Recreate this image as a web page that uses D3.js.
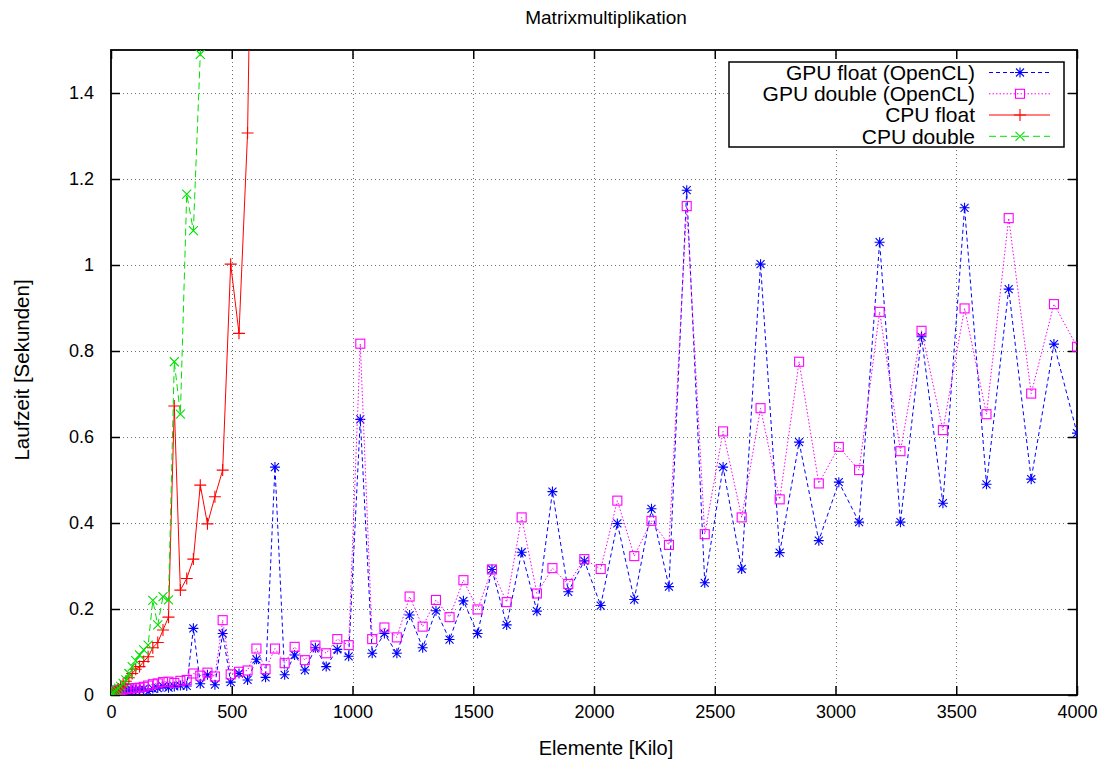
<!DOCTYPE html>
<html>
<head>
<meta charset="utf-8">
<script src="https://cdn.jsdelivr.net/npm/d3@7"></script>
<style>
  html, body { margin: 0; padding: 0; background: #fff; }
  svg text { font-family: "Liberation Sans", Arial, Helvetica, sans-serif; fill: #000; }
</style>
</head>
<body>
<svg id="chart" width="1110" height="762"></svg>
<script>
// ---------------- data ----------------
const titleText = "Matrixmultiplikation";
const xLabelText = "Elemente [Kilo]";
const yLabelText = "Laufzeit [Sekunden]";

const xTicks = [0, 500, 1000, 1500, 2000, 2500, 3000, 3500, 4000];
const yTicks = [0, 0.2, 0.4, 0.6, 0.8, 1, 1.2, 1.4];

const seriesNames = ["GPU float (OpenCL)", "GPU double (OpenCL)", "CPU float", "CPU double"];

// Elemente [Kilo]
const xKilo = [0.1, 1.0, 3.1, 6.4, 10.8, 16.4, 23.1, 31.0, 40.0, 50.2,
  61.5, 74.0, 87.6, 102.4, 118.3, 135.4, 153.7, 173.1, 193.6, 215.3,
  238.1, 262.1, 287.3, 313.6, 341.1, 369.7, 399.4, 430.3, 462.4, 495.6,
  530.0, 565.5, 602.2, 640.0, 679.0, 719.1, 760.4, 802.8, 846.4, 891.1,
  937.0, 984.1, 1032.3, 1081.6, 1132.1, 1183.7, 1236.5, 1290.5, 1345.6, 1401.9,
  1459.3, 1517.8, 1577.5, 1638.4, 1700.4, 1763.6, 1827.9, 1893.4, 1960.0, 2027.8,
  2096.7, 2166.8, 2238.0, 2310.4, 2383.9, 2458.6, 2534.5, 2611.5, 2689.6, 2768.9,
  2849.3, 2930.9, 3013.7, 3097.6, 3182.7, 3268.9, 3356.2, 3444.7, 3534.4, 3625.2,
  3717.2, 3810.3, 3904.6, 4000.0];

const gpuFloat = [0.001, 0.001, 0.002, 0.002, 0.003, 0.004, 0.005, 0.006, 0.007, 0.008,
  0.009, 0.010, 0.011, 0.012, 0.013, 0.014, 0.008, 0.015, 0.016, 0.020,
  0.017, 0.020, 0.022, 0.021, 0.155, 0.026, 0.047, 0.024, 0.143, 0.030,
  0.050, 0.035, 0.083, 0.041, 0.530, 0.047, 0.093, 0.058, 0.110, 0.066,
  0.106, 0.090, 0.641, 0.097, 0.143, 0.097, 0.186, 0.110, 0.196, 0.129,
  0.219, 0.143, 0.292, 0.163, 0.332, 0.195, 0.473, 0.240, 0.312, 0.208,
  0.399, 0.222, 0.433, 0.252, 1.174, 0.261, 0.530, 0.293, 1.002, 0.331,
  0.588, 0.359, 0.495, 0.402, 1.053, 0.402, 0.833, 0.446, 1.133, 0.490,
  0.944, 0.502, 0.816, 0.609];

const gpuDouble = [0.002, 0.003, 0.004, 0.005, 0.007, 0.008, 0.010, 0.011, 0.012, 0.013,
  0.014, 0.015, 0.016, 0.016, 0.017, 0.019, 0.022, 0.025, 0.027, 0.030,
  0.031, 0.028, 0.033, 0.035, 0.050, 0.045, 0.052, 0.043, 0.174, 0.048,
  0.054, 0.057, 0.108, 0.060, 0.108, 0.074, 0.112, 0.081, 0.115, 0.097,
  0.130, 0.116, 0.817, 0.130, 0.157, 0.134, 0.229, 0.159, 0.221, 0.181,
  0.267, 0.199, 0.292, 0.216, 0.413, 0.236, 0.295, 0.258, 0.316, 0.293,
  0.452, 0.323, 0.405, 0.349, 1.137, 0.374, 0.613, 0.413, 0.667, 0.455,
  0.775, 0.492, 0.577, 0.523, 0.891, 0.567, 0.847, 0.616, 0.899, 0.653,
  1.109, 0.701, 0.909, 0.810];

const cpuFloat = [0, 0.001, 0.002, 0.003, 0.005, 0.007, 0.010, 0.014, 0.019, 0.025,
  0.032, 0.040, 0.050, 0.060, 0.066, 0.078, 0.089, 0.110, 0.122, 0.151,
  0.181, 0.672, 0.244, 0.271, 0.316, 0.488, 0.398, 0.461, 0.523, 1.002,
  0.841, 1.307, 2.6];

const cpuDouble = [0, 0.001, 0.002, 0.004, 0.006, 0.009, 0.012, 0.016, 0.020, 0.027,
  0.035, 0.050, 0.066, 0.080, 0.093, 0.105, 0.116, 0.220, 0.163, 0.229,
  0.221, 0.775, 0.653, 1.165, 1.080, 1.490, 2.0];

// ---------------- layout ----------------
const L = 111, R = 1077, T = 50, B = 695;
const svg = d3.select("#chart");
const x = d3.scaleLinear().domain([0, 4000]).range([L, R]);
const y = d3.scaleLinear().domain([0, 1.5]).range([B, T]);

const styles = [
  { color: "#0000ff", dash: "4,3", marker: "star" },
  { color: "#ff00ff", dash: "1.5,2", marker: "square" },
  { color: "#ff0000", dash: null, marker: "plus" },
  { color: "#00e000", dash: "7,4", marker: "cross" }
];
const seriesValues = [gpuFloat, gpuDouble, cpuFloat, cpuDouble];

svg.append("defs").append("clipPath").attr("id", "plotclip")
  .append("rect").attr("x", L).attr("y", T).attr("width", R - L).attr("height", B - T);

// grid
const grid = svg.append("g").attr("stroke", "#707070").attr("stroke-width", 1)
  .attr("stroke-dasharray", "1,3").attr("fill", "none");
grid.selectAll("line.gx").data(xTicks.filter(d => d > 0 && d < 4000)).join("line")
  .attr("x1", d => Math.round(x(d)) + 0.5).attr("x2", d => Math.round(x(d)) + 0.5)
  .attr("y1", T).attr("y2", B);
grid.selectAll("line.gy").data(yTicks.filter(d => d > 0)).join("line")
  .attr("y1", d => Math.round(y(d)) + 0.5).attr("y2", d => Math.round(y(d)) + 0.5)
  .attr("x1", L).attr("x2", R);

// axes
const fontTick = "18px";
const ax = svg.append("g").attr("transform", `translate(0,${B})`)
  .call(d3.axisBottom(x).tickValues(xTicks).tickFormat(d => String(d))
    .tickSizeInner(-9).tickSizeOuter(0).tickPadding(10));
const axT = svg.append("g").attr("transform", `translate(0,${T})`)
  .call(d3.axisTop(x).tickValues(xTicks).tickFormat("").tickSizeInner(-9).tickSizeOuter(0));
const ay = svg.append("g").attr("transform", `translate(${L},0)`)
  .call(d3.axisLeft(y).tickValues(yTicks).tickFormat(d => String(d))
    .tickSizeInner(-9).tickSizeOuter(0).tickPadding(17));
const ayR = svg.append("g").attr("transform", `translate(${R},0)`)
  .call(d3.axisRight(y).tickValues(yTicks).tickFormat("").tickSizeInner(-9).tickSizeOuter(0));
[ax, axT, ay, ayR].forEach(g => {
  g.select(".domain").remove();
  g.selectAll(".tick line").attr("stroke", "#000").attr("stroke-width", 1.5);
  g.selectAll(".tick text").style("font-size", fontTick)
    .style("font-family", '"Liberation Sans", Arial, sans-serif').attr("fill", "#000");
});

// border
svg.append("rect").attr("x", L).attr("y", T).attr("width", R - L).attr("height", B - T)
  .attr("fill", "none").attr("stroke", "#000").attr("stroke-width", 1.8);

// markers
function drawMarker(g, kind, cx, cy, color) {
  if (kind === "star") {
    const r = 5, d = 4;
    g.append("path").attr("d",
      `M${cx - r},${cy}H${cx + r}M${cx},${cy - r}V${cy + r}M${cx - d},${cy - d}L${cx + d},${cy + d}M${cx - d},${cy + d}L${cx + d},${cy - d}`)
      .attr("stroke", color).attr("stroke-width", 1.1).attr("fill", "none");
  } else if (kind === "square") {
    g.append("rect").attr("x", cx - 4.5).attr("y", cy - 4.5).attr("width", 9).attr("height", 9)
      .attr("stroke", color).attr("stroke-width", 1.1).attr("fill", "none");
  } else if (kind === "plus") {
    const r = 6;
    g.append("path").attr("d", `M${cx - r},${cy}H${cx + r}M${cx},${cy - r}V${cy + r}`)
      .attr("stroke", color).attr("stroke-width", 1.1).attr("fill", "none");
  } else if (kind === "cross") {
    const r = 4.5;
    g.append("path").attr("d", `M${cx - r},${cy - r}L${cx + r},${cy + r}M${cx - r},${cy + r}L${cx + r},${cy - r}`)
      .attr("stroke", color).attr("stroke-width", 1.1).attr("fill", "none");
  }
}

// data
const plot = svg.append("g").attr("clip-path", "url(#plotclip)");
const line = d3.line().x(d => x(d[0])).y(d => y(d[1]));
seriesValues.forEach((vals, i) => {
  const st = styles[i];
  const pts = vals.map((v, k) => [xKilo[k], v]);
  plot.append("path").datum(pts).attr("d", line)
    .attr("fill", "none").attr("stroke", st.color).attr("stroke-width", 1)
    .attr("stroke-dasharray", st.dash);
  const mg = plot.append("g");
  pts.filter(p => p[1] <= 1.5).forEach(p => drawMarker(mg, st.marker, x(p[0]), y(p[1]), st.color));
});

// titles
svg.append("text").attr("x", 606).attr("y", 24).attr("text-anchor", "middle")
  .style("font-size", "19px").text(titleText);
svg.append("text").attr("x", 606).attr("y", 755).attr("text-anchor", "middle")
  .style("font-size", "20px").text(xLabelText);
svg.append("text").attr("transform", "translate(29,370) rotate(-90)").attr("text-anchor", "middle")
  .style("font-size", "20.5px").text(yLabelText);

// legend
const lg = svg.append("g");
lg.append("rect").attr("x", 729).attr("y", 62).attr("width", 335).attr("height", 85)
  .attr("fill", "#fff").attr("stroke", "#000").attr("stroke-width", 1.5);
const rowY = [72.5, 93.8, 115, 136.3];
seriesNames.forEach((name, i) => {
  const st = styles[i];
  lg.append("text").attr("x", 975).attr("y", rowY[i]).attr("dy", "0.35em")
    .attr("text-anchor", "end").style("font-size", "21px").text(name);
  lg.append("line").attr("x1", 989).attr("x2", 1050).attr("y1", rowY[i]).attr("y2", rowY[i])
    .attr("stroke", st.color).attr("stroke-width", 1).attr("stroke-dasharray", st.dash);
  drawMarker(lg, st.marker, 1020, rowY[i], st.color);
});
</script>
</body>
</html>
